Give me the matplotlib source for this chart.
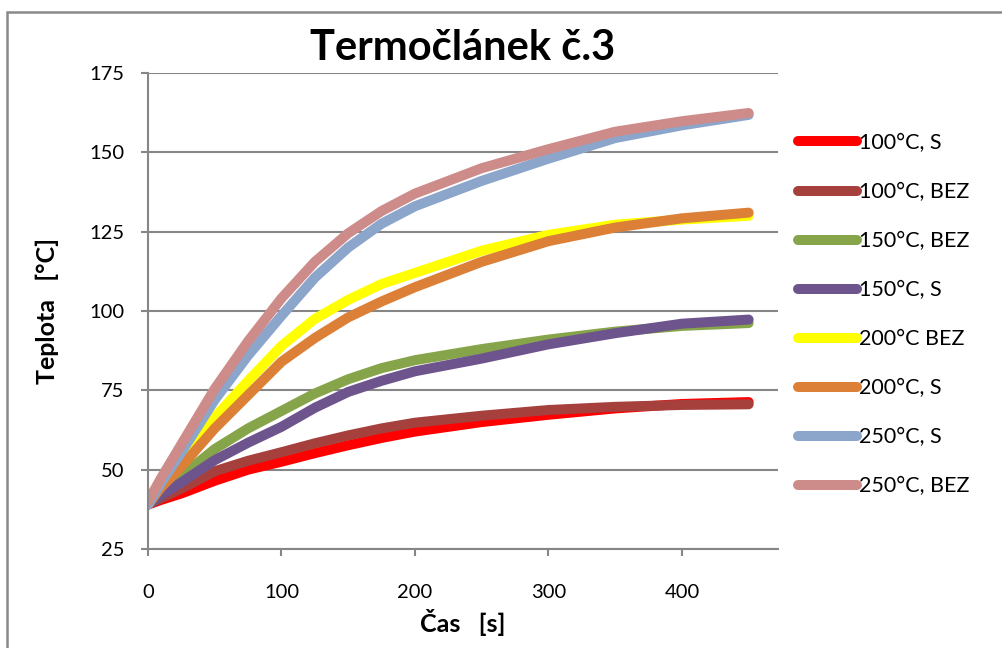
import matplotlib
matplotlib.use('Agg')
import matplotlib.pyplot as plt
from matplotlib.patches import Rectangle

plt.rcParams['font.family'] = ['Lato', 'DejaVu Sans']

# time [s]
cas = [0, 10, 25, 50, 75, 100, 125, 150, 175, 200, 250, 300, 350, 400, 450]

# temperatures [°C]
t100_s = [39, 40.5, 42.5, 46.5, 50, 52.5, 55.2, 57.7, 60, 62, 65, 67.3, 69.3, 70.7, 71.3]
t100_bez = [39, 41, 44, 49.5, 52.8, 55.5, 58.3, 60.8, 63, 64.8, 67, 68.8, 69.8, 70.4, 70.6]
t150_bez = [39, 42.5, 48, 56.5, 63, 68.5, 74, 78.5, 82, 84.5, 88, 91, 93.5, 95.3, 96.2]
t150_s = [39, 42, 46, 53, 58.5, 63.5, 69.5, 74.5, 78, 81, 85, 89.5, 93, 96, 97.3]
t200_bez = [39, 45, 53, 66.5, 78, 89, 97.5, 103.5, 108.5, 112, 119, 124, 127.2, 128.8, 130]
t200_s = [39, 44.5, 51, 63, 73.5, 84, 91.5, 98, 103, 107.5, 115.5, 122, 126.3, 129.2, 131]
t250_s = [39, 46, 55.5, 72, 86, 98.5, 110.5, 120, 127.5, 133, 141, 148, 154.5, 158.5, 161.8]
t250_bez = [40, 47.5, 58, 75.5, 90.5, 104, 115.5, 124.5, 131.5, 137, 145, 151, 156.5, 159.8, 162.4]

series = [
    ('100°C, S', t100_s, '#FF0000'),
    ('100°C, BEZ', t100_bez, '#A5403D'),
    ('150°C, BEZ', t150_bez, '#86A44A'),
    ('150°C, S', t150_s, '#6E548D'),
    ('200°C BEZ', t200_bez, '#FFFF00'),
    ('200°C, S', t200_s, '#DD8037'),
    ('250°C, S', t250_s, '#8CA5CB'),
    ('250°C, BEZ', t250_bez, '#CD8B89'),
]

W, H = 1003, 648
fig = plt.figure(figsize=(W / 100, H / 100), dpi=100)

# outer chart frame (only top and left visible in the crop)
fig.patches.append(Rectangle((7 / W, -0.1), 1.2, 1 - 12 / H + 0.1, transform=fig.transFigure,
                             fill=False, edgecolor='#898989', linewidth=1.8))

ax = fig.add_axes([148 / W, 1 - 549 / H, (778 - 148) / W, (549 - 73) / H])

for name, vals, col in series:
    ax.plot(cas, vals, color=col, linewidth=7.2, label=name,
            solid_capstyle='round', solid_joinstyle='round')

ax.set_xlim(0, 472)
ax.set_ylim(25, 175)
ax.set_xticks([0, 100, 200, 300, 400])
ax.set_yticks([25, 50, 75, 100, 125, 150, 175])

ax.grid(axis='y', color='#868686', linewidth=1.5)
ax.set_axisbelow(True)
for s in ['top', 'right']:
    ax.spines[s].set_visible(False)
for s in ['left', 'bottom']:
    ax.spines[s].set_color('#868686')
    ax.spines[s].set_linewidth(1.5)

ax.tick_params(axis='both', colors='#868686', labelcolor='black', labelsize=14.5,
               length=5, width=1.5, direction='out')
ax.tick_params(axis='y', pad=12)
ax.tick_params(axis='x', pad=20)

ax.set_title('Termočlánek č.3', fontsize=30, fontweight='bold', pad=9)
ax.set_xlabel('Čas   [s]', fontsize=18, fontweight='bold', labelpad=6)
ax.set_ylabel('Teplota   [°C]', fontsize=18, fontweight='bold', labelpad=22)

fig.legend(loc='upper left', bbox_to_anchor=(798 / W, 1 - 133 / H), frameon=False,
           fontsize=15.5, handlelength=2.75, handletextpad=0.1, labelspacing=1.35,
           borderpad=0, borderaxespad=0)

fig.savefig('out.png', dpi=100)
